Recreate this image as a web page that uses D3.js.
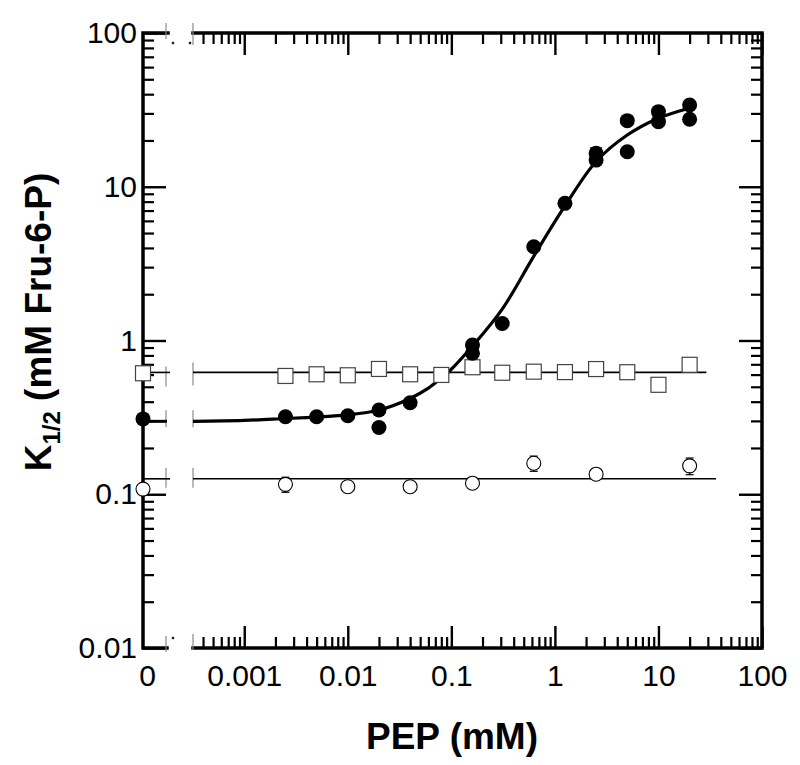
<!DOCTYPE html>
<html>
<head>
<meta charset="utf-8">
<script src="https://cdn.jsdelivr.net/npm/d3@7"></script>
<style>
body { margin: 0; background: #fff; }
text { font-family: "Liberation Sans", Arial, Helvetica, sans-serif; }
</style>
</head>
<body>
<svg></svg>
<script>
// data (PEP in mM, K1/2 in mM Fru-6-P); PEP 0 sits in the broken-off section
const pepSquare = [0, 0.0025, 0.005, 0.01, 0.02, 0.04, 0.08, 0.16, 0.31, 0.625, 1.25, 2.5, 5, 10, 20];
const kSquare   = [0.612, 0.588, 0.603, 0.594, 0.653, 0.603, 0.597, 0.67, 0.617, 0.627, 0.623, 0.652, 0.622, 0.515, 0.695];
const squareFit = 0.62;

const pepFilled = [0, 0.0025, 0.005, 0.01, 0.02, 0.02, 0.04, 0.16, 0.16, 0.31, 0.625, 1.25, 2.5, 2.5, 5, 5, 10, 10, 20, 20];
const kFilled   = [0.309, 0.319, 0.319, 0.324, 0.353, 0.272, 0.394, 0.935, 0.826, 1.29, 4.07, 7.8, 16.5, 14.9, 26.9, 16.9, 30.8, 26.5, 34, 27.5];
const errFilled = [0, 0, 0, 0, 0, 0, 0, 0, 0, 0, 0, 0, 1.4, 0, 0, 0, 0, 0, 0, 0];

const pepOpen = [0, 0.0025, 0.01, 0.04, 0.16, 0.625, 2.5, 20];
const kOpen   = [0.108, 0.116, 0.112, 0.112, 0.118, 0.159, 0.135, 0.153];
const errOpen = [0, 0.013, 0, 0, 0, 0.018, 0, 0.019];
const openFit = 0.126;

// fitted curve for the filled circles, read at points along the drawn line
const curvePep = [0.00032, 0.001, 0.0025, 0.005, 0.01, 0.02, 0.04, 0.06, 0.08, 0.1, 0.16, 0.31, 0.62, 1.25, 2.5, 5, 10, 19];
const curveK   = [0.298, 0.302, 0.311, 0.318, 0.328, 0.353, 0.42, 0.49, 0.57, 0.65, 0.92, 1.6, 3.5, 7.5, 14.6, 21.7, 27.9, 32.2];
const filledZero = 0.298;

const xMajor = [0.001, 0.01, 0.1, 1, 10, 100];
const yMajor = [0.01, 0.1, 1, 10, 100];

const svg = d3.select('svg')
    .attr('width', 800)
    .attr('height', 765);

const fL = 143, fR = 762, fT = 33, fB = 648;
const breakL = 167, breakR = 193;

const x = d3.scaleLog().domain([0.00032, 100]).range([breakR, fR]);
const xZero = d3.scaleLinear().domain([0, 1]).range([fL, breakL]);
const y = d3.scaleLog().domain([0.01, 100]).range([fB, fT]);
const px = v => v === 0 ? xZero(0) : x(v);

const minorOf = (lo, hi) => {
    const out = [];
    for (let d = -4; d <= 2; d++) {
        for (let m = 2; m <= 9; m++) {
            const v = +(m * Math.pow(10, d)).toPrecision(3);
            if (v > lo && v < hi) out.push(v);
        }
    }
    return out;
};
const xMinor = minorOf(0.00032, 100);
const yMinor = minorOf(0.01, 100);
const fmt = d3.format('~g');

const styleAxis = (sel, w) => {
    sel.select('.domain').remove();
    sel.selectAll('line').attr('stroke', '#000').attr('stroke-width', w);
    sel.selectAll('text').attr('font-size', 30).attr('fill', '#000');
};

// bottom
svg.append('g').attr('transform', `translate(0,${fB})`)
    .call(d3.axisBottom(x).tickValues(xMajor).tickSize(-22).tickPadding(17).tickFormat(fmt))
    .call(s => styleAxis(s, 2.4));
svg.append('g').attr('transform', `translate(0,${fB})`)
    .call(d3.axisBottom(x).tickValues(xMinor).tickSize(-11).tickFormat(''))
    .call(s => styleAxis(s, 2.2));
svg.append('g').attr('transform', `translate(0,${fB})`)
    .call(d3.axisBottom(xZero).tickValues([0]).tickSize(0).tickPadding(17).tickFormat(fmt))
    .call(s => styleAxis(s, 0))
    .selectAll('text').attr('dx', 4);

// top
svg.append('g').attr('transform', `translate(0,${fT})`)
    .call(d3.axisTop(x).tickValues(xMajor).tickSize(-22).tickFormat(''))
    .call(s => styleAxis(s, 2.4));
svg.append('g').attr('transform', `translate(0,${fT})`)
    .call(d3.axisTop(x).tickValues(xMinor).tickSize(-11).tickFormat(''))
    .call(s => styleAxis(s, 2.2));

// left
svg.append('g').attr('transform', `translate(${fL},0)`)
    .call(d3.axisLeft(y).tickValues(yMajor).tickSize(-23).tickPadding(6).tickFormat(fmt))
    .call(s => styleAxis(s, 2.4));
svg.append('g').attr('transform', `translate(${fL},0)`)
    .call(d3.axisLeft(y).tickValues(yMinor).tickSize(-11).tickFormat(''))
    .call(s => styleAxis(s, 2.2));

// right
svg.append('g').attr('transform', `translate(${fR},0)`)
    .call(d3.axisRight(y).tickValues(yMajor).tickSize(-23).tickFormat(''))
    .call(s => styleAxis(s, 2.4));
svg.append('g').attr('transform', `translate(${fR},0)`)
    .call(d3.axisRight(y).tickValues(yMinor).tickSize(-11).tickFormat(''))
    .call(s => styleAxis(s, 2.2));

// frame with the axis break
const frame = d3.path();
frame.moveTo(fL, fT); frame.lineTo(fL, fB);
frame.moveTo(fR, fT); frame.lineTo(fR, fB);
frame.moveTo(fL, fT); frame.lineTo(breakL + 1, fT);
frame.moveTo(breakR, fT); frame.lineTo(fR, fT);
frame.moveTo(fL, fB); frame.lineTo(breakL, fB);
frame.moveTo(breakR, fB); frame.lineTo(fR, fB);
svg.append('path')
    .attr('d', frame.toString())
    .attr('fill', 'none')
    .attr('stroke', '#000')
    .attr('stroke-width', 3.5)
    .attr('stroke-linecap', 'square');

// break markers
const breakMarks = [
    [fT - 10, fT + 6, fT - 10, fT + 12],
    [fB - 12, fB + 4, fB - 14, fB + 2],
    [y(squareFit) - 6, y(squareFit) + 14, y(squareFit) - 10, y(squareFit) + 13],
    [y(filledZero) - 11, y(filledZero) + 6, y(filledZero) - 11, y(filledZero) + 6],
    [y(openFit) - 11, y(openFit) + 9, y(openFit) - 11, y(openFit) + 9]
];
const bg = svg.append('g').attr('stroke', '#8a8a8a').attr('stroke-width', 1.2);
breakMarks.forEach(b => {
    bg.append('line').attr('x1', breakL - 1).attr('x2', breakL - 1).attr('y1', b[0]).attr('y2', b[1]);
    bg.append('line').attr('x1', breakR).attr('x2', breakR).attr('y1', b[2]).attr('y2', b[3]);
});
[[173, fT + 10], [190, fT + 10], [173, fB - 10]].forEach(p => {
    svg.append('rect').attr('x', p[0] - 1.2).attr('y', p[1] - 1.2)
        .attr('width', 2.4).attr('height', 2.4).attr('fill', '#222');
});

// fitted lines
const flat = (v, x0, x1, w) => {
    svg.append('line')
        .attr('x1', xZero(0)).attr('x2', breakL + 3)
        .attr('y1', y(v)).attr('y2', y(v))
        .attr('stroke', '#000').attr('stroke-width', w);
    svg.append('line')
        .attr('x1', x(x0)).attr('x2', x(x1))
        .attr('y1', y(v)).attr('y2', y(v))
        .attr('stroke', '#000').attr('stroke-width', w);
};
flat(squareFit, 0.00032, 29, 1.6);
flat(openFit, 0.00032, 36, 1.6);

svg.append('line')
    .attr('x1', xZero(0)).attr('x2', breakL)
    .attr('y1', y(filledZero)).attr('y2', y(filledZero))
    .attr('stroke', '#000').attr('stroke-width', 3);

const curve = d3.line()
    .x(d => x(d[0]))
    .y(d => y(d[1]))
    .curve(d3.curveCatmullRom.alpha(0.5));
svg.append('path')
    .attr('d', curve(d3.zip(curvePep, curveK)))
    .attr('fill', 'none')
    .attr('stroke', '#000')
    .attr('stroke-width', 3.2);

// error bars
const errBars = (peps, ks, errs, cap) => {
    const g = svg.append('g').attr('stroke', '#000').attr('stroke-width', 1.2);
    peps.forEach((p, i) => {
        if (!errs[i]) return;
        const cx = px(p), y0 = y(ks[i] - errs[i]), y1 = y(ks[i] + errs[i]);
        g.append('line').attr('x1', cx).attr('x2', cx).attr('y1', y0).attr('y2', y1);
        g.append('line').attr('x1', cx - cap).attr('x2', cx + cap).attr('y1', y0).attr('y2', y0);
        g.append('line').attr('x1', cx - cap).attr('x2', cx + cap).attr('y1', y1).attr('y2', y1);
    });
};
errBars(pepFilled, kFilled, errFilled, 6);
errBars(pepOpen, kOpen, errOpen, 4);

// markers
svg.append('g').selectAll('rect')
    .data(d3.zip(pepSquare, kSquare))
    .join('rect')
    .attr('x', d => px(d[0]) - 7.5)
    .attr('y', d => y(d[1]) - 7.5)
    .attr('width', 15).attr('height', 15)
    .attr('fill', '#fff')
    .attr('stroke', '#444')
    .attr('stroke-width', 1.2);

svg.append('g').selectAll('circle')
    .data(d3.zip(pepOpen, kOpen))
    .join('circle')
    .attr('cx', d => px(d[0]))
    .attr('cy', d => y(d[1]))
    .attr('r', 7)
    .attr('fill', '#fff')
    .attr('stroke', '#000')
    .attr('stroke-width', 1.1);

svg.append('g').selectAll('circle')
    .data(d3.zip(pepFilled, kFilled))
    .join('circle')
    .attr('cx', d => px(d[0]))
    .attr('cy', d => y(d[1]))
    .attr('r', 7.5)
    .attr('fill', '#000');

// axis titles
svg.append('text')
    .attr('x', 452)
    .attr('y', 749)
    .attr('text-anchor', 'middle')
    .attr('font-size', 37)
    .attr('font-weight', 'bold')
    .text('PEP (mM)');

const yLabel = svg.append('text')
    .attr('transform', 'translate(51,322) rotate(-90)')
    .attr('text-anchor', 'middle')
    .attr('font-size', 37)
    .attr('font-weight', 'bold');
yLabel.append('tspan').text('K');
yLabel.append('tspan').attr('font-size', 24).attr('dy', 9).text('1/2');
yLabel.append('tspan').attr('dy', -9).text(' (mM Fru-6-P)');
</script>
</body>
</html>
